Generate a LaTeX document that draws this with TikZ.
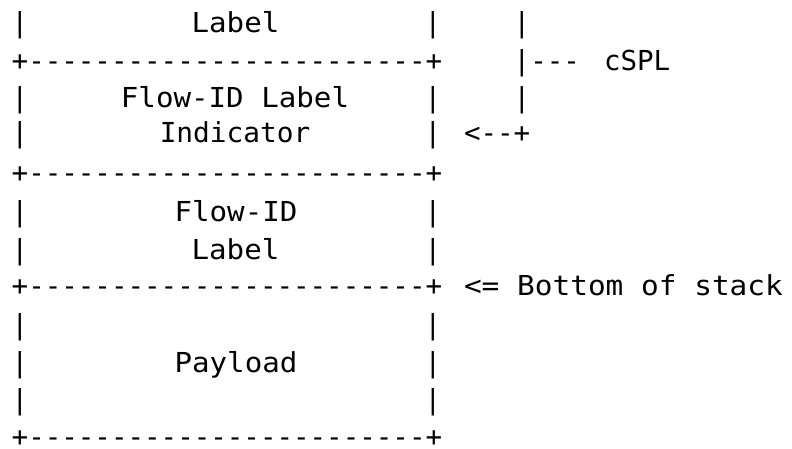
\documentclass[tikz,border=0pt]{standalone}
\usepackage{fontspec}
\setmonofont{DejaVu Sans Mono}
\usepackage{graphicx}
\newcommand{\sx}[1]{\scalebox{1.06}[1]{#1}}
\newcommand{\bordertxt}{+------------------------+}
\tikzset{
  t/.style={font=\ttfamily\fontsize{27.5}{33}\selectfont, text=black, inner sep=0pt, outer sep=0pt, anchor=base},
  tw/.style={t, anchor=base west},
}
\begin{document}
\begin{tikzpicture}[x=1pt,y=-1pt]
\useasboundingbox (0,0) rectangle (792,449);
% line 1
\node[t] (l1a) at (20,33) {|};
\node[t] (l1b) at (235.5,33) {\sx{Label}};
\node[t] (l1c) at (433,33) {|};
\node[t] (l1d) at (522,33) {|};
% line 2
\node[tw] (b1) at (11.7,70.6) {\bordertxt};
\node[tw] (l2a) at (513.7,70.6) {|---};
\node[tw] (cspl) at (604,70.6) {cSPL};
% line 3
\node[t] (l3a) at (20,107.5) {|};
\node[t] (l3b) at (235,107.5) {\sx{Flow-ID Label}};
\node[t] (l3c) at (433,107.5) {|};
\node[t] (l3d) at (522,107.5) {|};
% line 4
\node[t] (l4a) at (20,143) {|};
\node[t] (l4b) at (235,143) {\scalebox{1.01}[1]{Indicator}};
\node[t] (l4c) at (433,143) {|};
\node[tw] (arr) at (464,143) {<--+};
% line 5
\node[tw] (b2) at (11.7,183) {\bordertxt};
% line 6
\node[t] (l6a) at (20,222) {|};
\node[t] (l6b) at (236,222) {\sx{Flow-ID}};
\node[t] (l6c) at (433,222) {|};
% line 7
\node[t] (l7a) at (20,259.5) {|};
\node[t] (l7b) at (235.5,259.5) {\sx{Label}};
\node[t] (l7c) at (433,259.5) {|};
% line 8
\node[tw] (b3) at (11.7,295.5) {\bordertxt};
\node[tw] (bos) at (464,295.5) {\scalebox{1.07}[1]{<= Bottom of stack}};
% line 9
\node[t] (l9a) at (20,334) {|};
\node[t] (l9c) at (433,334) {|};
% line 10
\node[t] (l10a) at (20,372) {|};
\node[t] (l10b) at (236,372) {\sx{Payload}};
\node[t] (l10c) at (433,372) {|};
% line 11
\node[t] (l11a) at (20,409.5) {|};
\node[t] (l11c) at (433,409.5) {|};
% line 12
\node[tw, text depth=0pt] (b4) at (11.7,446) {\bordertxt};
\end{tikzpicture}
\end{document}
